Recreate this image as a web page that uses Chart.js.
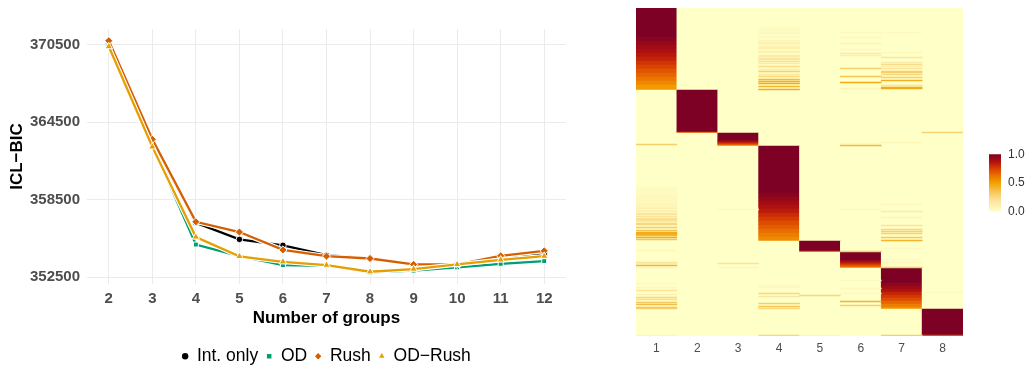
<!DOCTYPE html>
<html><head><meta charset="utf-8">
<script src="https://cdn.jsdelivr.net/npm/chart.js@4/dist/chart.umd.min.js"></script>
<style>
html,body{margin:0;padding:0;background:#fff;width:1027px;height:365px;overflow:hidden;}
#wrapL{position:absolute;left:0;top:0;width:600px;height:365px;overflow:hidden;}
#wrapH{position:absolute;left:600px;top:0;width:380px;height:365px;}
#wrapC{position:absolute;left:980px;top:140px;width:47px;height:90px;}
canvas{display:block;}
</style></head><body>
<div id="wrapL"><canvas id="lineChart" width="600" height="375" style="width:600px;height:375px"></canvas></div>
<div id="wrapH"><canvas id="heatChart" width="380" height="365" style="width:380px;height:365px"></canvas></div>
<div id="wrapC"><canvas id="barChart" width="47" height="90" style="width:47px;height:90px"></canvas></div>
<script>
// ---------- Left panel: ICL-BIC by number of groups ----------
const nGroups = [2, 3, 4, 5, 6, 7, 8, 9, 10, 11, 12];
const intOnly = [370500, 363000, 356700, 355420, 354960, 354190, 353935, 353420, 353370, 353985, 354290];
const od      = [370400, 362700, 355015, 354115, 353420, 353370, 352860, 353000, 353250, 353525, 353730];
const rush    = [370800, 363170, 356780, 355985, 354600, 354115, 353935, 353475, 353475, 354140, 354525];
const odRush  = [370350, 362580, 355600, 354100, 353680, 353420, 352910, 353115, 353475, 353830, 354115];
const yTicks = [352500, 358500, 364500, 370500];
const seriesNames = ['Int. only', 'OD', 'Rush', 'OD\u2212Rush'];

// ---------- Right panel: posterior membership heatmap ----------
const groups = ['1', '2', '3', '4', '5', '6', '7', '8'];
const clusterRows = [82, 43, 13, 95, 11, 16, 41, 27];
// runs of [rows, probability] in the assigned group's column, top to bottom
const mainRuns1 = [[29,1],[4,.97],[4,.94],[4,.91],[4,.88],[4,.85],[4,.82],[4,.78],[4,.74],[4,.70],[4,.66],[4,.62],[4,.57],[5,.52]];
const mainRuns2 = [[42,1],[1,.72]];
const mainRuns3 = [[7,1],[1,.95],[1,.9],[1,.85],[1,.78],[1,.7],[1,.6]];
const mainRuns4 = [[47,1],[4,.97],[4,.94],[4,.9],[4,.87],[4,.84],[4,.8],[4,.76],[4,.72],[4,.68],[4,.64],[4,.6],[4,.56]];
const mainRuns5 = [[10,1],[1,.75]];
const mainRuns6 = [[8,1],[1,.95],[1,.9],[1,.86],[1,.82],[1,.77],[1,.72],[1,.66],[1,.6]];
const mainRuns7 = [[15,1],[3,.96],[3,.92],[3,.87],[3,.82],[3,.77],[3,.72],[3,.66],[3,.6],[2,.54]];
const mainRuns8 = [[26,1],[1,.7]];
// off-diagonal stripes: [startRow, rows, group, probability]
const stripes = [
  [19,6,4,.03],[25,1,4,.06],[28,2,4,.04],[32,1,4,.08],[34,2,4,.1],[36,1,4,.06],[38,2,4,.09],[40,1,4,.12],[43,2,4,.1],[47,2,4,.14],[50,2,4,.18],[53,1,4,.2],[55,1,4,.14],[58,1,4,.24],[61,1,4,.12],[63,1,4,.3],[66,1,4,.18],[68,1,4,.26],[71,1,4,.4],[73,1,4,.44],[75,1,4,.46],[78,1,4,.42],[81,1,4,.45],
  [24,1,6,.05],[29,1,6,.06],[35,1,6,.08],[41,1,6,.05],[45,1,6,.15],[47,1,6,.12],[60,1,6,.3],[68,1,6,.35],[74,1,6,.46],[80,1,6,.08],
  [24,1,7,.04],[44,1,7,.06],[49,1,7,.18],[54,1,7,.14],[56,1,7,.24],[58,1,7,.12],[60,1,7,.2],[63,2,7,.3],[66,1,7,.26],[69,1,7,.3],[72,1,7,.44],[77,1,7,.2],[79,2,7,.46],
  [124,1,8,.28],
  [136,1,1,.3],[135,1,6,.05],[137,1,6,.4],[134,1,7,.06],
  [179,8,1,.03],[187,8,1,.05],[195,5,1,.07],[200,1,1,.12],[202,2,1,.1],[205,2,1,.18],[208,1,1,.2],[210,3,1,.22],[213,1,1,.16],[215,2,1,.26],[219,1,1,.32],[222,1,1,.36],[224,3,1,.46],[227,1,1,.4],[229,1,1,.46],[231,1,1,.36],
  [196,1,7,.05],[203,1,7,.15],[209,1,7,.08],[217,1,7,.2],[221,1,7,.26],[223,1,7,.3],[225,1,7,.28],[229,1,7,.34],[232,1,7,.42],
  [201,1,3,.04],[201,1,6,.04],
  [242,1,1,.05],[240,1,7,.04],[243,1,6,.3],
  [254,1,1,.2],[255,1,1,.14],[257,1,1,.42],[259,1,1,.08],[255,1,3,.2],[259,1,3,.05],[251,1,7,.04],[254,1,7,.05],[259,1,7,.3],
  [275,1,1,.05],[279,1,1,.06],[282,1,1,.2],[286,1,1,.1],[289,1,1,.26],[291,1,1,.22],[294,1,1,.34],[296,1,1,.38],[299,1,1,.36],[300,1,1,.3],
  [277,1,4,.05],[279,1,4,.06],[285,1,4,.26],[288,1,4,.18],[295,1,4,.3],[298,1,4,.36],[300,1,4,.26],
  [287,1,5,.26],
  [272,1,6,.04],[280,1,6,.05],[285,1,6,.05],[293,1,6,.42],[297,1,6,.3],
  [284,1,8,.04],
  [327,1,1,.06],[327,1,4,.26],[327,1,5,.06],[327,1,7,.3]
];
const colorStops = [0, 0.2, 0.35, 0.5, 0.62, 0.75, 0.87, 1];
const stopColors = ['#FFFFC8', '#FBE39A', '#F6C555', '#F2A200', '#EA7600', '#D94000', '#B0100F', '#7D0025'];
const colorbarRange = [0, 1];
const colorbarTicks = [0, 0.5, 1];

// ---------- helpers ----------
Chart.defaults.font.family = "'Liberation Sans', Arial, Helvetica, sans-serif";
function hexToRgb(h) { return [1,3,5].map(i => parseInt(h.substr(i, 2), 16)); }
function probColor(p) {
  for (let i = 1; i < colorStops.length; i++) {
    if (p <= colorStops[i]) {
      const t = (p - colorStops[i-1]) / (colorStops[i] - colorStops[i-1]);
      const a = hexToRgb(stopColors[i-1]), b = hexToRgb(stopColors[i]);
      const c = a.map((v, k) => Math.round(v + (b[k] - v) * t));
      return 'rgb(' + c.join(',') + ')';
    }
  }
  return stopColors[stopColors.length - 1];
}

// ---------- line chart ----------
const seriesData = [intOnly, od, rush, odRush];
const seriesColors = ['#000000', '#009E73', '#D55E00', '#E69F00'];
const seriesStyles = ['circle', 'rect', 'rectRot', 'triangle'];
const seriesRadius = [3.3, 3.5, 4.1, 4.3];
const datasets = [];
seriesData.forEach((vals, i) => {
  const pts = nGroups.map((g, k) => ({x: g, y: vals[k]}));
  datasets.push({
    label: seriesNames[i], data: pts, order: 7 - 2 * i,
    borderColor: seriesColors[i], borderWidth: 2.3, backgroundColor: seriesColors[i],
    pointStyle: seriesStyles[i], pointRadius: seriesRadius[i], pointBackgroundColor: seriesColors[i],
    pointBorderColor: '#FFFFFF', pointBorderWidth: 1, tension: 0, fill: false
  });
  datasets.push({
    label: '_halo' + i, data: pts, order: 8 - 2 * i,
    borderColor: '#FFFFFF', borderWidth: 4.6, pointRadius: 0, tension: 0, fill: false
  });
});

new Chart(document.getElementById('lineChart'), {
  type: 'line',
  data: {datasets},
  options: {
    responsive: false, animation: false,
    layout: {padding: {top: 29, right: 34, left: 0, bottom: 0}},
    plugins: {
      tooltip: {enabled: false},
      legend: {
        position: 'bottom', fullSize: false,
        labels: {
          usePointStyle: true, boxWidth: 6, boxHeight: 4.5, padding: 8,
          color: '#000', font: {size: 17.5},
          generateLabels: () => seriesNames.map((n, i) => ({
            text: n, fillStyle: seriesColors[i], strokeStyle: seriesColors[i], lineWidth: 0,
            pointStyle: seriesStyles[i], hidden: false, datasetIndex: 2 * i, fontColor: '#000'
          }))
        }
      }
    },
    scales: {
      x: {
        type: 'linear', min: 1.5, max: 12.5,
        afterBuildTicks: s => { s.ticks = nGroups.map(v => ({value: v})); },
        afterFit: s => { s.height = 55.5; },
        grid: {color: '#EBEBEB', lineWidth: 1, drawTicks: false},
        border: {display: false},
        ticks: {padding: 6, color: '#4D4D4D', font: {size: 15, weight: 'bold'}, callback: v => String(v)},
        title: {display: true, text: 'Number of groups', color: '#000', font: {size: 17, weight: 'bold'}, padding: {top: 0, bottom: 11}}
      },
      y: {
        min: 351960, max: 371710,
        afterBuildTicks: s => { s.ticks = yTicks.map(v => ({value: v})); },
        afterFit: s => { s.width = 87; },
        grid: {color: '#EBEBEB', lineWidth: 1, drawTicks: false},
        border: {display: false},
        ticks: {padding: 7, color: '#4D4D4D', font: {size: 15, weight: 'bold'}, callback: v => String(v)},
        title: {display: true, text: 'ICL\u2212BIC', color: '#000', font: {size: 17, weight: 'bold'}, padding: {top: 7, bottom: 0}}
      }
    }
  }
});

// ---------- heatmap ----------
const mainRuns = [mainRuns1, mainRuns2, mainRuns3, mainRuns4, mainRuns5, mainRuns6, mainRuns7, mainRuns8];
const totalRows = clusterRows.reduce((a, b) => a + b, 0);
const cells = [];
let start = 0;
clusterRows.forEach((n, c) => {
  groups.forEach((g, j) => {
    if (j === c) {
      let r = start;
      mainRuns[c].forEach(([len, p]) => { cells.push({x: g, y: [r, r + len], v: p}); r += len; });
    } else {
      cells.push({x: g, y: [start, start + n], v: 0});
    }
  });
  start += n;
});
const stripeCells = stripes.map(([r, len, g, p]) => ({x: groups[g - 1], y: [r, r + len], v: p}));
const cellColor = c => (c.raw ? probColor(c.raw.v) : stopColors[0]);

new Chart(document.getElementById('heatChart'), {
  type: 'bar',
  data: {labels: groups, datasets: [
    {data: stripeCells, grouped: false, backgroundColor: cellColor, barPercentage: 1, categoryPercentage: 1, borderWidth: 0},
    {data: cells, grouped: false, backgroundColor: cellColor, barPercentage: 1, categoryPercentage: 1, borderWidth: 0}
  ]},
  options: {
    responsive: false, animation: false,
    layout: {padding: {left: 36, right: 17, top: 8, bottom: 0}},
    plugins: {legend: {display: false}, tooltip: {enabled: false}},
    scales: {
      x: {type: 'category', offset: true, grid: {display: false, drawTicks: false}, border: {display: false},
          ticks: {color: '#4D4D4D', font: {size: 12}, padding: 5}, afterFit: s => { s.height = 29; }},
      y: {type: 'linear', reverse: true, min: 0, max: totalRows, display: false}
    }
  }
});

// ---------- colour bar ----------
new Chart(document.getElementById('barChart'), {
  type: 'bar',
  data: {labels: [''], datasets: [{
    data: [colorbarRange], barPercentage: 1, categoryPercentage: 1, borderWidth: 0,
    backgroundColor: c => {
      const a = c.chart.chartArea;
      if (!a) return stopColors[0];
      const g = c.chart.ctx.createLinearGradient(0, a.bottom, 0, a.top);
      colorStops.forEach((s, i) => g.addColorStop(s, stopColors[i]));
      return g;
    }
  }]},
  options: {
    responsive: false, animation: false,
    layout: {padding: {left: 9, top: 14, bottom: 18.3, right: 0}},
    plugins: {legend: {display: false}, tooltip: {enabled: false}},
    scales: {
      x: {display: false},
      y: {position: 'right', min: 0, max: 1,
          afterBuildTicks: s => { s.ticks = colorbarTicks.map(v => ({value: v})); },
          afterFit: s => { s.width = 26; },
          grid: {display: false, drawTicks: false}, border: {display: false},
          ticks: {padding: 7, color: '#333333', font: {size: 12}, callback: v => Number(v).toFixed(1)}}
    }
  }
});
</script>
</body></html>
